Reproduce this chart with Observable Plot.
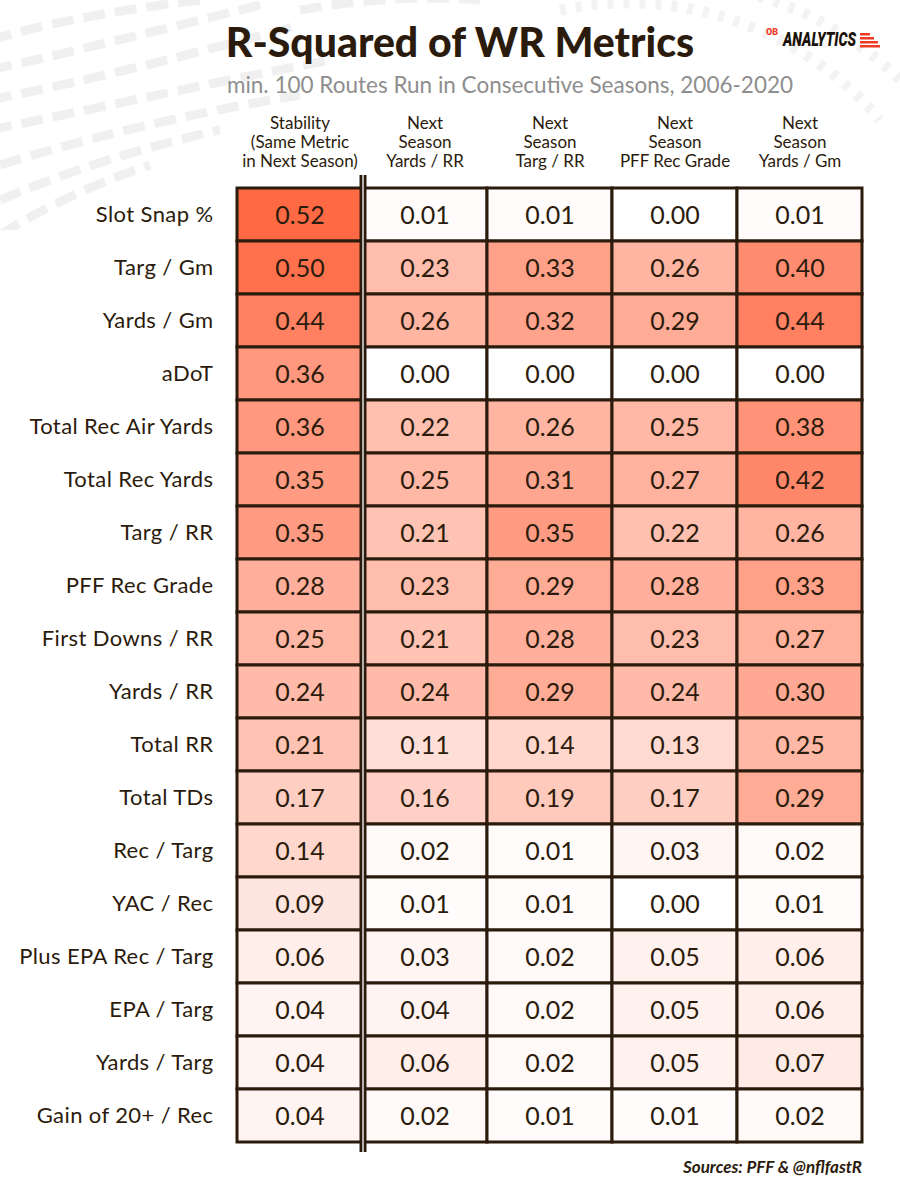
<!DOCTYPE html>
<html>
<head>
<meta charset="utf-8">
<script src="https://cdn.jsdelivr.net/npm/d3@7"></script>
<script src="https://cdn.jsdelivr.net/npm/@observablehq/plot@0.6"></script>
<style>
  html, body { margin: 0; padding: 0; background: #fff; }
  body { width: 900px; height: 1200px; position: relative; overflow: hidden; font-family: Lato, "Open Sans", sans-serif; color: #2b1b0c; }
  #bg { position: absolute; left: 0; top: 0; }
  #head { position: relative; height: 100px; }
  #title { position: absolute; left: 0; width: 920px; top: 17px; text-align: center; font-size: 41px; font-weight: 900; }
  #subtitle { position: absolute; left: 0; width: 1020px; top: 71px; text-align: center; font-size: 22.5px; color: #8e8e8e; }
  #logo { position: absolute; left: 764px; top: 24px; }
  #chart { position: relative; height: 1060px; }
  #chart g[aria-label="y-axis tick label"] text { letter-spacing: 0.4px; }
  #caption { position: absolute; right: 38px; top: 1156px; font-size: 17px; font-weight: 700; font-style: italic; }
</style>
</head>
<body>
<svg id="bg" width="900" height="230">
  <g fill="none" stroke="#f0f0f0" stroke-width="9" stroke-dasharray="22 10">
    <path d="M-10,40 C60,20 120,10 200,0"/>
    <path d="M-10,70 C80,50 160,30 260,5"/>
    <path d="M-10,100 C90,80 190,55 300,25"/>
    <path d="M-10,130 C90,110 200,85 330,60"/>
    <path d="M0,165 C80,140 180,115 300,95"/>
    <path d="M0,200 C60,175 130,150 220,130"/>
    <path d="M0,235 C40,210 90,185 150,165"/>
    <path d="M300,10 C360,0 420,-5 480,0"/>
  </g>
  <g fill="none" stroke="#f3f3f3" stroke-width="11" stroke-dasharray="6 10">
    <path d="M560,10 A330,330 0 0 1 880,120"/>
    <path d="M600,-10 A330,330 0 0 1 900,80"/>
  </g>
</svg>
<div id="head">
  <div id="title">R-Squared of WR Metrics</div>
  <div id="subtitle">min. 100 Routes Run in Consecutive Seasons, 2006-2020</div>
  <svg id="logo" width="124" height="26">
    <text x="2" y="11" font-size="9" font-weight="900" fill="#ee3b24" font-family="Roboto">OB</text>
    <text x="19" y="22" font-size="20" font-weight="900" font-style="italic" fill="#1a1209" font-family="Roboto" textLength="73" lengthAdjust="spacingAndGlyphs">ANALYTICS</text>
    <rect x="96" y="9" width="10" height="2.5" fill="#ee3b24"/>
    <rect x="96" y="13" width="14" height="2.5" fill="#ee3b24"/>
    <rect x="96" y="17" width="18" height="2.5" fill="#ee3b24"/>
    <rect x="96" y="21" width="20" height="2.5" fill="#ee3b24"/>
  </svg>
</div>
<div id="chart"></div>
<div id="caption">Sources: PFF &amp; @nflfastR</div>
<script>
const metrics = ["Slot Snap %","Targ / Gm","Yards / Gm","aDoT","Total Rec Air Yards","Total Rec Yards","Targ / RR","PFF Rec Grade","First Downs / RR","Yards / RR","Total RR","Total TDs","Rec / Targ","YAC / Rec","Plus EPA Rec / Targ","EPA / Targ","Yards / Targ","Gain of 20+ / Rec"];
const columns = ["stability","yardsRR","targRR","pffGrade","yardsGm"];
const columnLabels = ["Stability\n(Same Metric\nin Next Season)","Next\nSeason\nYards / RR","Next\nSeason\nTarg / RR","Next\nSeason\nPFF Rec Grade","Next\nSeason\nYards / Gm"];
const stability = [0.52,0.50,0.44,0.36,0.36,0.35,0.35,0.28,0.25,0.24,0.21,0.17,0.14,0.09,0.06,0.04,0.04,0.04];
const yardsRR   = [0.01,0.23,0.26,0.00,0.22,0.25,0.21,0.23,0.21,0.24,0.11,0.16,0.02,0.01,0.03,0.04,0.06,0.02];
const targRR    = [0.01,0.33,0.32,0.00,0.26,0.31,0.35,0.29,0.28,0.29,0.14,0.19,0.01,0.01,0.02,0.02,0.02,0.01];
const pffGrade  = [0.00,0.26,0.29,0.00,0.25,0.27,0.22,0.28,0.23,0.24,0.13,0.17,0.03,0.00,0.05,0.05,0.05,0.01];
const yardsGm   = [0.01,0.40,0.44,0.00,0.38,0.42,0.26,0.33,0.27,0.30,0.25,0.29,0.02,0.01,0.06,0.06,0.07,0.02];

const series = {stability, yardsRR, targRR, pffGrade, yardsGm};
const rows = [];
columns.forEach(c => metrics.forEach((m, i) => rows.push({col: c, metric: m, value: series[c][i]})));
const labelOf = Object.fromEntries(columns.map((c, i) => [c, columnLabels[i]]));

const ink = "#2b1b0c";
const plot = Plot.plot({
  width: 900,
  height: 1060,
  marginLeft: 236,
  marginRight: 38,
  marginTop: 88,
  marginBottom: 18,
  style: {fontFamily: "Lato, 'Open Sans', sans-serif", color: ink, background: "transparent"},
  x: {domain: columns, padding: 0, label: null},
  y: {domain: metrics, padding: 0, label: null},
  color: {type: "linear", domain: [0, 0.52], range: ["#ffffff", "#ff6a45"], interpolate: "rgb"},
  marks: [
    Plot.axisX({anchor: "top", tickSize: 0, tickPadding: 22, tickFormat: d => labelOf[d], fontSize: 17, lineHeight: 1.1, label: null}),
    Plot.axisY({tickSize: 0, tickPadding: 23, fontSize: 22, label: null}),
    Plot.cell(rows, {x: "col", y: "metric", fill: "value", stroke: ink, strokeWidth: 3}),
    Plot.text(rows, {x: "col", y: "metric", text: d => d.value.toFixed(2), fontSize: 25, fill: ink, dy: 1})
  ]
});
document.getElementById("chart").appendChild(plot);

// double separator after the Stability column
const xs = plot.scale("x"), ys = plot.scale("y");
const sepX = xs.apply("stability") + xs.bandwidth;
const sepTop = ys.apply(metrics[0]) - 13;
const sepBottom = ys.apply(metrics[metrics.length - 1]) + ys.bandwidth + 10;
const svgSel = d3.select(plot);
svgSel.append("line").attr("x1", sepX + 1).attr("x2", sepX + 1).attr("y1", sepTop).attr("y2", sepBottom).attr("stroke", ink).attr("stroke-width", 7);
svgSel.append("line").attr("x1", sepX + 1).attr("x2", sepX + 1).attr("y1", sepTop).attr("y2", sepBottom).attr("stroke", "#b5b0ab").attr("stroke-width", 2);
</script>
</body>
</html>
